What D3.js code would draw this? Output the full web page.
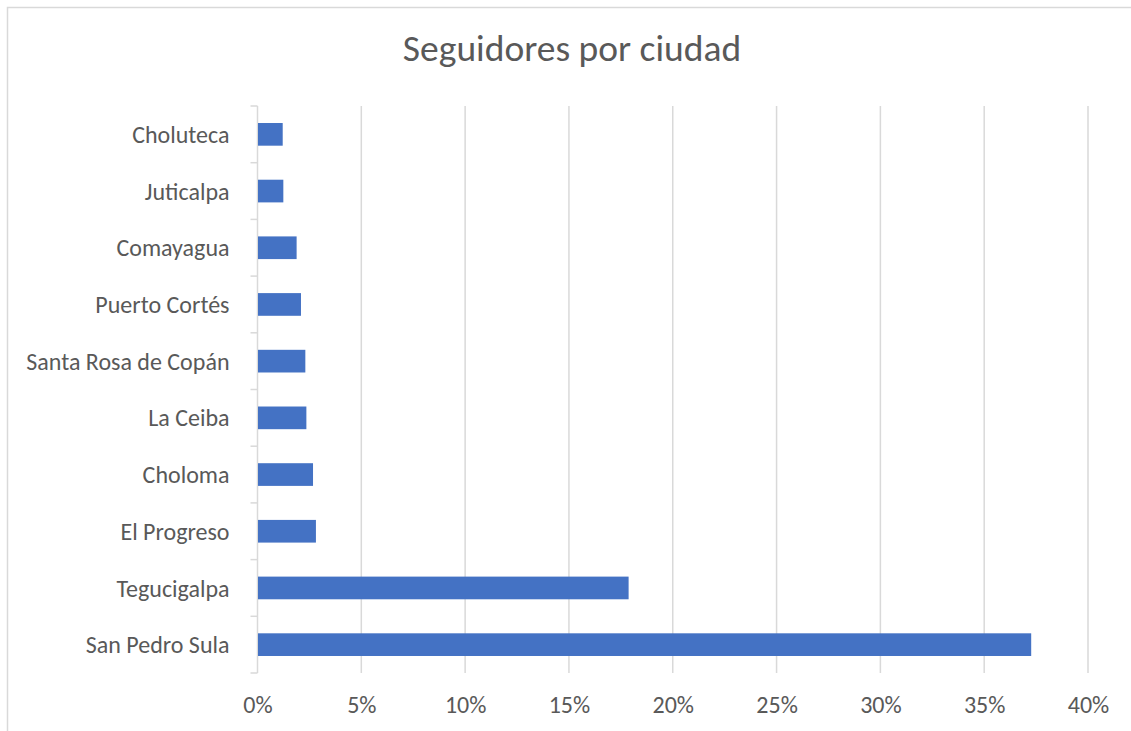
<!DOCTYPE html>
<html>
<head>
<meta charset="utf-8">
<script src="https://cdn.jsdelivr.net/npm/d3@7"></script>
<style>
  html, body { margin: 0; padding: 0; background: #fff; }
  svg { display: block; font-family: Carlito, Lato, sans-serif; }
</style>
</head>
<body>
<div id="chart"></div>
<script>
// cities from top to bottom, as in the chart
const cities = ['Choluteca', 'Juticalpa', 'Comayagua', 'Puerto Cortés', 'Santa Rosa de Copán',
  'La Ceiba', 'Choloma', 'El Progreso', 'Tegucigalpa', 'San Pedro Sula'];
// share of followers (%)
const shares = [1.19, 1.22, 1.86, 2.07, 2.28, 2.33, 2.65, 2.79, 17.85, 37.24];
const xTicks = [0, 5, 10, 15, 20, 25, 30, 35, 40];
const title = 'Seguidores por ciudad';

const width = 1131;
const height = 731;
const margin = {top: 106, right: 43, bottom: 58, left: 257.5};
const textColor = '#595959';
const gridColor = '#d9d9d9';

const data = cities.map((c, i) => ({city: c, value: shares[i]}));

const svg = d3.select('#chart').append('svg')
  .attr('width', width)
  .attr('height', height);

// chart border (runs past the right and bottom edge)
svg.append('rect')
  .attr('x', 7.5)
  .attr('y', 7.5)
  .attr('width', width + 20)
  .attr('height', height + 20)
  .attr('fill', '#fff')
  .attr('stroke', gridColor)
  .attr('stroke-width', 1.5);

const x = d3.scaleLinear()
  .domain([0, 40])
  .range([margin.left, width - margin.right]);

const y = d3.scaleBand()
  .domain(cities)
  .range([margin.top, height - margin.bottom])
  .paddingInner(0.6)
  .paddingOuter(0.3);

// title
svg.append('text')
  .attr('x', 572)
  .attr('y', 61)
  .attr('text-anchor', 'middle')
  .attr('fill', textColor)
  .style('font-size', '37.5px')
  .text(title);

// vertical gridlines
svg.append('g')
  .selectAll('line')
  .data(xTicks.slice(1))
  .enter()
  .append('line')
  .attr('x1', d => x(d))
  .attr('x2', d => x(d))
  .attr('y1', margin.top)
  .attr('y2', height - margin.bottom)
  .attr('stroke', gridColor)
  .attr('stroke-width', 1.5);

// x axis labels
const xAxis = svg.append('g')
  .attr('transform', `translate(0, ${height - margin.bottom})`)
  .call(d3.axisBottom(x).tickValues(xTicks).tickFormat(d => d + '%').tickSize(0).tickPadding(23));
xAxis.select('.domain').remove();
xAxis.selectAll('text')
  .attr('fill', textColor)
  .style('font-size', '24px')
  .style('font-family', 'Carlito, Lato, sans-serif');

// category axis line with outside ticks at band edges
const step = y.step();
const edges = d3.range(cities.length + 1).map(i => margin.top + i * step);
const yAxis = svg.append('g');
yAxis.append('line')
  .attr('x1', margin.left)
  .attr('x2', margin.left)
  .attr('y1', margin.top)
  .attr('y2', height - margin.bottom)
  .attr('stroke', gridColor)
  .attr('stroke-width', 1.5);
yAxis.selectAll('.tick')
  .data(edges)
  .enter()
  .append('line')
  .attr('class', 'tick')
  .attr('x1', margin.left - 7)
  .attr('x2', margin.left)
  .attr('y1', d => d)
  .attr('y2', d => d)
  .attr('stroke', gridColor)
  .attr('stroke-width', 1.5);

yAxis.selectAll('.label')
  .data(cities)
  .enter()
  .append('text')
  .attr('class', 'label')
  .attr('x', margin.left - 28)
  .attr('y', d => y(d) + y.bandwidth() / 2)
  .attr('dy', '0.36em')
  .attr('text-anchor', 'end')
  .attr('fill', textColor)
  .style('font-size', '24px')
  .text(d => d);

// bars
svg.append('g')
  .selectAll('rect')
  .data(data)
  .enter()
  .append('rect')
  .attr('x', x(0) + 0.5)
  .attr('y', d => y(d.city))
  .attr('width', d => x(d.value) - x(0))
  .attr('height', y.bandwidth())
  .attr('fill', '#4472c4');
</script>
</body>
</html>
